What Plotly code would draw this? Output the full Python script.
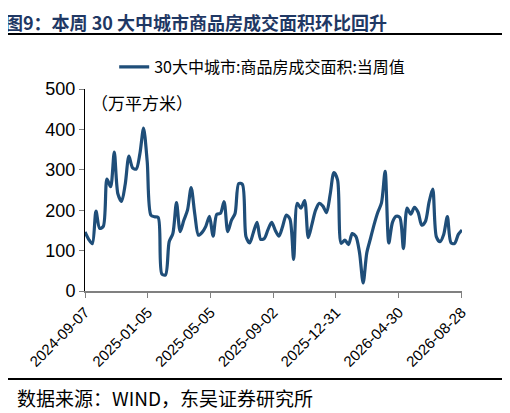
import pandas as pd
import plotly.graph_objects as go

# 30大中城市商品房成交面积（当周值，万平方米），周度
START_DATE = "2024-09-07"
VALUES = [
    146, 128, 117, 198, 155, 160, 277, 258, 344, 240,
    222, 265, 334, 305, 302, 340, 403, 320, 188, 184,
    182, 42, 40, 122, 142, 219, 147, 175, 200, 256,
    190, 138, 145, 160, 185, 136, 190, 192, 221, 147,
    175, 192, 266, 264, 134, 119, 145, 170, 128, 130,
    152, 170, 150, 136, 160, 188, 178, 78, 217, 205,
    224, 132, 165, 200, 217, 210, 194, 240, 293, 275,
    118, 126, 115, 142, 135, 95, 20, 95, 130, 165,
    195, 218, 296, 119, 170, 185, 182, 105, 205, 190,
    207, 195, 163, 172, 220, 252, 134, 122, 140, 184,
    119, 118, 140, 151,
]
TICK_DATES = ["2024-09-07", "2025-01-05", "2025-05-05", "2025-09-02",
              "2025-12-31", "2026-04-30", "2026-08-28"]
Y_TICKS = [0, 100, 200, 300, 400, 500]

SERIES_NAME = "30大中城市:商品房成交面积:当周值"
TITLE = "<b>图9：本周 30 大中城市商品房成交面积环比回升</b>"
SOURCE = "数据来源：WIND，东吴证券研究所"
UNIT = "（万平方米）"

_C_LINE = "#1F4E79"
_C_TITLE = "#1F3864"
_FONT_CJK = "Noto Sans CJK SC"
_FONT_NUM = "Liberation Sans, Arial"

# the page body adds an 8px offset, so the figure is drawn 8px smaller
_W, _H = 502, 405
_PW, _PH = 377, 202  # plot area size in px

dates = pd.date_range(START_DATE, periods=len(VALUES), freq="7D")

fig = go.Figure(
    go.Scatter(
        x=dates,
        y=VALUES,
        mode="lines",
        name=SERIES_NAME,
        line={"color": _C_LINE, "width": 3.2, "shape": "spline", "smoothing": 0.8},
    )
)

fig.update_layout(
    width=_W,
    height=_H,
    paper_bgcolor="white",
    plot_bgcolor="white",
    margin={"l": 77, "r": 48, "t": 81, "b": 122},
    font={"family": _FONT_NUM, "color": "#000000", "size": 13},
    showlegend=True,
    legend={
        "orientation": "h",
        "x": 0.47,
        "xanchor": "center",
        "y": 1 + 22 / _PH,
        "yanchor": "middle",
        "font": {"family": _FONT_CJK, "size": 16, "color": "#000000"},
    },
)

fig.update_xaxes(
    range=[dates[0], dates[-1]],
    tickvals=pd.to_datetime(TICK_DATES),
    ticktext=TICK_DATES,
    tickangle=-45,
    automargin=False,
    showgrid=False,
    zeroline=False,
    showline=True,
    linecolor="#808080",
    linewidth=1.5,
    ticks="outside",
    ticklen=5,
    tickcolor="#808080",
    tickfont={"family": _FONT_NUM, "size": 15, "color": "#000000"},
)
fig.update_yaxes(
    range=[0, 500],
    tickvals=Y_TICKS,
    automargin=False,
    showgrid=False,
    zeroline=False,
    showline=True,
    linecolor="#000000",
    linewidth=1,
    ticks="outside",
    ticklen=5,
    tickcolor="#808080",
    tickfont={"family": _FONT_NUM, "size": 18, "color": "#000000"},
)

fig.add_annotation(
    text=TITLE, xref="paper", yref="paper", x=-82 / _PW, y=1 + 67 / _PH,
    xanchor="left", yanchor="middle", showarrow=False,
    font={"family": _FONT_CJK, "size": 18, "color": _C_TITLE},
)
fig.add_annotation(
    text=UNIT, xref="paper", yref="paper", x=4 / _PW, y=0.935,
    xanchor="left", yanchor="middle", showarrow=False,
    font={"family": _FONT_CJK, "size": 17, "color": "#000000"},
)
fig.add_annotation(
    text=SOURCE, xref="paper", yref="paper", x=-70 / _PW, y=-106 / _PH,
    xanchor="left", yanchor="middle", showarrow=False,
    font={"family": _FONT_CJK, "size": 19, "color": "#000000"},
)
# separator rules under the title and above the source
for y_px in (34, 379):
    yp = (291 - y_px) / _PH
    fig.add_shape(
        type="line", xref="paper", yref="paper",
        x0=-80 / _PW, x1=420 / _PW, y0=yp, y1=yp,
        line={"color": "#000000", "width": 2},
    )

fig.write_html("out.html")
